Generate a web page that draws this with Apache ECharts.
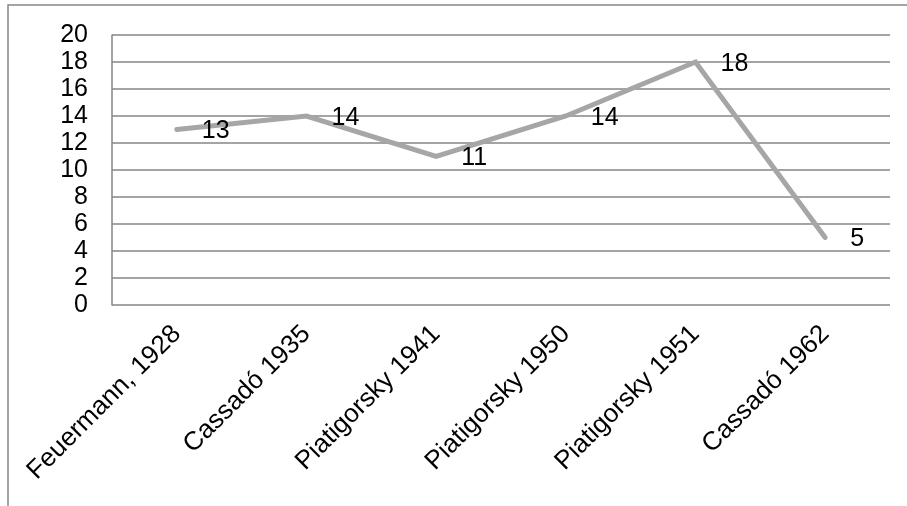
<!DOCTYPE html>
<html><head><meta charset="utf-8">
<script src="https://cdn.jsdelivr.net/npm/echarts@6/dist/echarts.min.js"></script>
<style>html,body{margin:0;padding:0;background:#fff}#c{width:907px;height:506px}</style>
</head><body><div id="c"></div>
<script>
var categories = ["Feuermann, 1928", "Cassadó 1935", "Piatigorsky 1941", "Piatigorsky 1950", "Piatigorsky 1951", "Cassadó 1962"];
var values = [13, 14, 11, 14, 18, 5];
var yMin = 0, yMax = 20, yStep = 2;

var chart = echarts.init(document.getElementById('c'));
var font = 'Liberation Sans';
chart.setOption({
  animation: false,
  graphic: [{
    type: 'rect', silent: true,
    shape: {x: 8, y: 5, width: 920, height: 520},
    style: {fill: 'none', stroke: '#868686', lineWidth: 1.5}
  }],
  grid: {left: 112, top: 35, right: 17, bottom: 201, containLabel: false},
  xAxis: {
    type: 'category', data: categories, boundaryGap: true,
    axisLine: {show: false}, axisTick: {show: false},
    axisLabel: {rotate: 45, fontSize: 26, color: '#000', fontFamily: font, margin: 25, interval: 0}
  },
  yAxis: {
    type: 'value', min: yMin, max: yMax, interval: yStep,
    axisLine: {show: true, lineStyle: {color: '#868686', width: 1.5}},
    axisTick: {show: false},
    splitLine: {lineStyle: {color: '#868686', width: 1.5}},
    axisLabel: {fontSize: 25, color: '#000', fontFamily: font, margin: 24}
  },
  series: [{
    type: 'line', data: values, symbol: 'circle', symbolSize: 2, showSymbol: true,
    itemStyle: {color: '#a6a6a6'},
    lineStyle: {color: '#a6a6a6', width: 5, cap: 'round', join: 'miter'},
    label: {show: true, position: 'right', distance: 24, offset: [0, 2], fontSize: 25, color: '#000', fontFamily: font}
  }]
});
</script></body></html>
